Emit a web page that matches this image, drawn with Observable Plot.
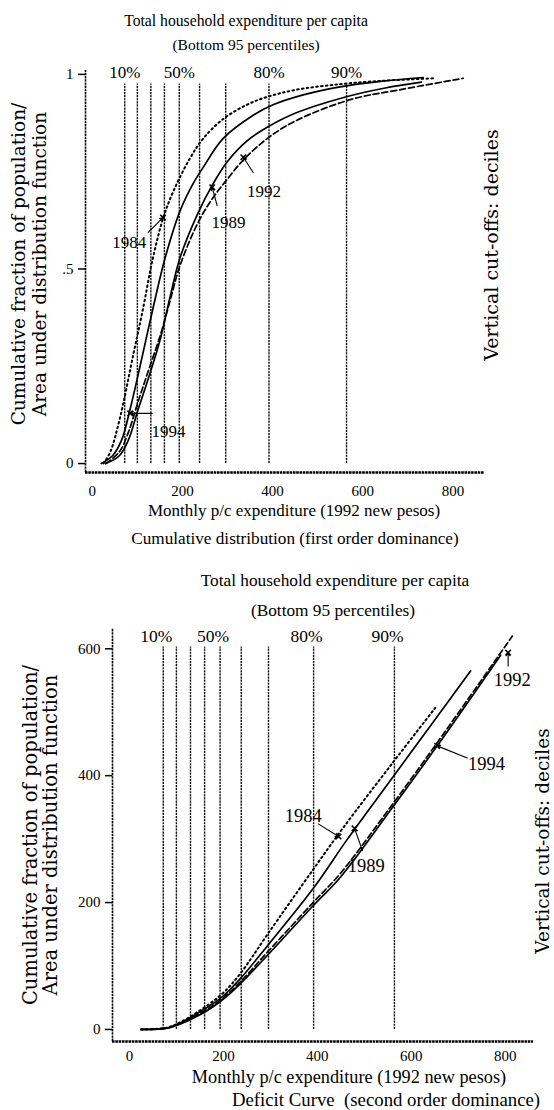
<!DOCTYPE html>
<html><head><meta charset="utf-8">
<script src="https://cdn.jsdelivr.net/npm/d3@7"></script>
<script src="https://cdn.jsdelivr.net/npm/@observablehq/plot@0.6"></script>
<style>
body{margin:0;background:#fff;}
#page{position:relative;width:554px;height:1110px;overflow:hidden;font-family:"Liberation Serif",serif;color:#000;background:#fff;}
.t{position:absolute;white-space:nowrap;transform:translate(-50%,-50%);line-height:1;}
.r{position:absolute;white-space:nowrap;transform:translate(-50%,-50%) rotate(-90deg);line-height:1;font-family:"DejaVu Serif",serif;}
.panel{position:absolute;left:0;}
</style></head><body><div id="page"></div>
<script>
// ---------- data ----------
const deciles = [72, 100, 130, 160, 193, 238, 296, 392, 564];
const decileLabels = ["10%", "", "", "", "50%", "", "", "80%", "90%"];

// Panel 1: cumulative distribution (x: monthly p/c expenditure, y: cumulative fraction)
const cdf1984 = [[25,0],[40,0.03],[62,0.12],[91,0.28],[113,0.40],[133,0.52],[157,0.63],[180,0.70],[217,0.785],[246,0.835],[290,0.885],[343,0.922],[388,0.942],[450,0.96],[550,0.975],[650,0.984],[760,0.99]];
const cdf1994 = [[20,0],[45,0.02],[65,0.06],[84,0.14],[106,0.25],[133,0.39],[162,0.53],[195,0.65],[224,0.72],[246,0.761],[290,0.835],[357,0.895],[401,0.922],[470,0.948],[550,0.968],[640,0.982],[734,0.992]];
const cdf1989 = [[30,0],[60,0.02],[80,0.06],[102,0.14],[122,0.21],[151,0.32],[173,0.43],[195,0.53],[235,0.645],[266,0.715],[299,0.775],[344,0.83],[388,0.864],[450,0.9],[572,0.945],[650,0.965],[730,0.98]];
const cdf1992 = [[30,0],[60,0.03],[80,0.08],[102,0.16],[122,0.23],[151,0.33],[173,0.42],[195,0.51],[235,0.62],[266,0.68],[299,0.73],[335,0.78],[388,0.835],[450,0.88],[572,0.935],[680,0.96],[823,0.99]];
const cdfYTicks = [0, 0.5, 1];
const cdfYTickLabels = ["0", ".5", "1"];
// labels: [text, labelX, labelY, arrowFromX, arrowFromY, arrowToX, arrowToY]
const cdfNotes = [
  ["1984", 82, 0.568, 124, 0.594, 157, 0.632],
  ["1989", 302, 0.62, 277, 0.663, 266, 0.71],
  ["1992", 381, 0.70, 357, 0.748, 335, 0.787],
  ["1994", 169, 0.082, 133, 0.129, 84, 0.129]
];

// Panel 2: deficit curve
const def1984 = [[25,0],[80,3],[110,12],[166,38],[200,58],[236,88],[294,150],[391,252],[455,318],[560,420],[651,507]];
const def1989 = [[25,0],[80,2],[110,11],[166,35],[200,53],[236,80],[294,132],[391,222],[464,300],[555,392],[640,478],[726,565]];
const def1994 = [[25,0],[80,2],[110,9],[166,30],[200,48],[236,72],[294,117],[391,195],[449,240],[555,345],[655,447],[790,590]];
const def1992 = [[25,0],[80,2],[110,10],[166,32],[200,50],[236,75],[294,122],[391,200],[449,246],[555,350],[655,452],[815,620]];
const defYTicks = [0, 200, 400, 600];
const defNotes = [
  ["1984", 370, 337, 402, 324, 445, 304],
  ["1989", 504, 257, 496, 282, 479, 317],
  ["1994", 760, 419, 719, 428, 655, 447],
  ["1992", 815, 550, 806, 573, 806, 594]
];
const xTicks = [0, 200, 400, 600, 800];

// ---------- helpers ----------
const page = document.getElementById("page");
function addText(cls, txt, x, y, size, extra) {
  const d = document.createElement("div");
  d.className = cls; d.textContent = txt;
  d.style.left = x + "px"; d.style.top = y + "px"; d.style.fontSize = size + "px";
  if (extra) Object.assign(d.style, extra);
  page.appendChild(d);
}
const pts = a => a.map(([x, y]) => ({x, y}));

function buildPanel(cfg) {
  const curves = [
    {d: cfg.c1984, dash: "1.6,3.2", w: 2.0},
    {d: cfg.c1989, dash: null, w: 1.7},
    {d: cfg.c1992, dash: "6,3", w: 1.7},
    {d: cfg.c1994, dash: null, w: 1.7}
  ];
  const notes = cfg.notes.map(([t, lx, ly, ax, ay, bx, by]) => ({t, lx, ly, ax, ay, bx, by}));
  const decs = deciles.map((x, i) => ({x, label: decileLabels[i]}));
  const [x0] = cfg.xDomain, [y0, y1] = cfg.yDomain;
  return Plot.plot({
    width: 554, height: cfg.height,
    marginTop: cfg.mt, marginBottom: cfg.mb, marginLeft: cfg.ml, marginRight: cfg.mr,
    x: {domain: cfg.xDomain},
    y: {domain: cfg.yDomain},
    style: {fontFamily: "Liberation Serif, serif", color: "#000", background: "transparent", overflow: "visible"},
    marks: [
      Plot.ruleX(decs, {x: "x", y1: 0, y2: cfg.decTop, stroke: "#111", strokeWidth: 1.4, strokeDasharray: "2.2,0.9"}),
      Plot.text(decs.filter(d => d.label), {x: "x", y: cfg.pctY, dx: cfg.pctDx, text: "label", fontSize: cfg.pctSize, fill: "#000"}),
      ...curves.map(c => Plot.line(pts(c.d), {x: "x", y: "y", curve: "catmull-rom", stroke: "#000", strokeWidth: c.w, strokeDasharray: c.dash})),
      Plot.arrow(notes, {x1: "ax", y1: "ay", x2: "bx", y2: "by", stroke: "#000", strokeWidth: 1.1, headLength: 5}),
      Plot.dot(notes, {x: "bx", y: "by", symbol: "times", r: 2.6, stroke: "#000", strokeWidth: 1.5}),
      Plot.text(notes, {x: "lx", y: "ly", text: "t", fontSize: cfg.noteSize, fill: "#000"}),
      Plot.ruleY([y0], {stroke: "#000", strokeWidth: 2.6, strokeDasharray: "2.6,0.7"}),
      Plot.ruleX([x0], {y1: y0, y2: y1, stroke: "#000", strokeWidth: 1.6, strokeDasharray: "2.4,0.8"}),
      Plot.axisX({ticks: xTicks, tickSize: 0, tickPadding: cfg.xPad, fontSize: cfg.tickSize, label: null}),
      Plot.axisY({ticks: cfg.yTicks, tickFormat: cfg.yFmt, tickSize: 7, tickPadding: 5, fontSize: cfg.tickSize, label: null, strokeWidth: 1.5})
    ]
  });
}

// ---------- panel 1 ----------
const p1 = buildPanel({
  c1984: cdf1984, c1989: cdf1989, c1992: cdf1992, c1994: cdf1994, notes: cdfNotes,
  height: 446, mt: 14, mb: 30, ml: 85, mr: 70,
  xDomain: [-15, 870], yDomain: [-0.023, 1.01], decTop: 0.975, pctY: 1.005, pctDx: 0, pctSize: 17,
  noteSize: 17, tickSize: 15, xPad: 13,
  yTicks: cdfYTicks, yFmt: d => cdfYTickLabels[cdfYTicks.indexOf(d)]
});
p1.classList.add("panel"); p1.style.top = "56px";
page.appendChild(p1);

// ---------- panel 2 ----------
const p2 = buildPanel({
  c1984: def1984, c1989: def1989, c1992: def1992, c1994: def1994, notes: defNotes,
  height: 472, mt: 28, mb: 31, ml: 112, mr: 21,
  xDomain: [-36, 860], yDomain: [-19, 632], decTop: 603, pctY: 620, pctDx: -7, pctSize: 17.5,
  noteSize: 18.5, tickSize: 15, xPad: 9,
  yTicks: defYTicks, yFmt: d => String(d)
});
p2.classList.add("panel"); p2.style.top = "600px";
page.appendChild(p2);

// ---------- titles, axis titles, captions ----------
addText("t", "Total household expenditure per capita", 246, 21, 15.7);
addText("t", "(Bottom 95 percentiles)", 246, 45, 15.5);
addText("t", "Monthly p/c expenditure (1992 new pesos)", 294, 510, 17);
addText("t", "Cumulative distribution (first order dominance)", 295, 539, 17.2);
addText("r", "Cumulative fraction of population/", 19, 264, 18.5);
addText("r", "Area under distribution function", 40, 264, 18.5);
addText("r", "Vertical cut-offs: deciles", 491, 245, 19);

addText("t", "Total household expenditure per capita", 335, 581, 17.3);
addText("t", "(Bottom 95 percentiles)", 333, 611, 17.3);
addText("t", "Monthly p/c expenditure (1992 new pesos)", 349, 1077, 18.3);
addText("t", "Deficit Curve\u00a0 (second order dominance)", 386, 1100, 18.8);
addText("r", "Cumulative fraction of population/", 31, 835, 19.5);
addText("r", "Area under distribution function", 51, 835, 19.5);
addText("r", "Vertical cut-offs: deciles", 543, 841, 18.5);
</script></body></html>
